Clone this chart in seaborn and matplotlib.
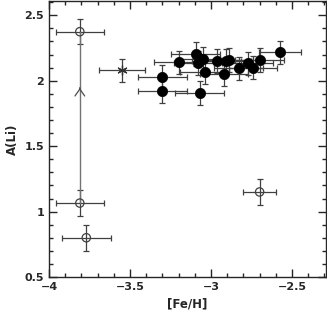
import numpy as np
import pandas as pd
import seaborn as sns
from matplotlib import pyplot as plt
from matplotlib.ticker import MultipleLocator

# filled circles
feh_filled = [-3.30, -3.30, -3.20, -3.095, -3.07, -3.08, -3.05, -3.04, -2.965,
              -2.92, -2.905, -2.89, -2.83, -2.77, -2.74, -2.70, -2.574]
ali_filled = [2.03, 1.92, 2.14, 2.205, 1.905, 2.136, 2.17, 2.065, 2.15,
              2.05, 2.15, 2.157, 2.095, 2.133, 2.10, 2.16, 2.217]
xerr_filled = [0.15] * 16 + [0.13]
yerr_filled = [0.09] * 17

# open circles
feh_open = [-3.81, -3.81, -3.77, -2.70]
ali_open = [2.375, 1.065, 0.80, 1.15]
xerr_open = [0.15, 0.15, 0.15, 0.10]
yerr_open = [0.095, 0.10, 0.10, 0.10]

# asterisk
feh_star = [-3.55]
ali_star = [2.08]
xerr_star = [0.14]
yerr_star = [0.09]

# lower-limit arrow between two open circles
arrow_x = -3.81
arrow_y = 1.945

sns.set_style("ticks")
plt.rcParams["font.family"] = ["DejaVu Sans"]
plt.rcParams["font.weight"] = "bold"

df = pd.DataFrame({"[Fe/H]": feh_filled, "A(Li)": ali_filled})

fig, ax = plt.subplots(figsize=(3.27, 3.13), dpi=100)
fig.subplots_adjust(left=0.15, right=0.997, top=0.997, bottom=0.115)

ebkw = dict(fmt="none", ecolor="0.25", elinewidth=0.9, capsize=2, capthick=0.9, zorder=1)
ax.errorbar(feh_filled, ali_filled, xerr=xerr_filled, yerr=yerr_filled, **ebkw)
ax.errorbar(feh_open, ali_open, xerr=xerr_open, yerr=yerr_open, **ebkw)
ax.errorbar(feh_star, ali_star, xerr=xerr_star, yerr=yerr_star, **ebkw)

# connecting line and arrow
ax.plot([feh_open[0], feh_open[1]], [ali_open[0], ali_open[1]], color="0.45", lw=1.0, zorder=1)
ax.annotate("", xy=(arrow_x, arrow_y), xytext=(arrow_x, arrow_y - 0.001),
            arrowprops=dict(arrowstyle="->,head_length=0.5,head_width=0.35", color="0.3", lw=0.9))

sns.scatterplot(data=df, x="[Fe/H]", y="A(Li)", ax=ax, color="black", s=55,
                edgecolor="black", linewidth=0.5, zorder=3, legend=False)
ax.scatter(feh_open, ali_open, s=36, facecolor="none", edgecolor="0.25", linewidth=0.9, zorder=3)
ax.scatter(feh_star, ali_star, s=45, marker=(6, 2, 0), color="0.2", linewidth=0.9, zorder=3)

ax.set_xlim(-4.0, -2.29)
ax.set_ylim(0.5, 2.61)
ax.xaxis.set_major_locator(MultipleLocator(0.5))
ax.xaxis.set_minor_locator(MultipleLocator(0.1))
ax.yaxis.set_major_locator(MultipleLocator(0.5))
ax.yaxis.set_minor_locator(MultipleLocator(0.1))
ax.xaxis.set_major_formatter(plt.FuncFormatter(lambda v, p: f"{v:g}".replace("-", "\u2212")))
ax.yaxis.set_major_formatter(plt.FuncFormatter(lambda v, p: f"{v:g}"))
ax.tick_params(which="both", direction="in", top=True, right=True, width=1.0, labelsize=8)
ax.tick_params(which="major", length=6)
ax.tick_params(which="minor", length=3)
for s in ax.spines.values():
    s.set_linewidth(1.0)
ax.set_xlabel("[Fe/H]", fontsize=8.5, fontweight="bold")
ax.set_ylabel("A(Li)", fontsize=8.5, fontweight="bold")

fig.savefig("out.png", dpi=100)
